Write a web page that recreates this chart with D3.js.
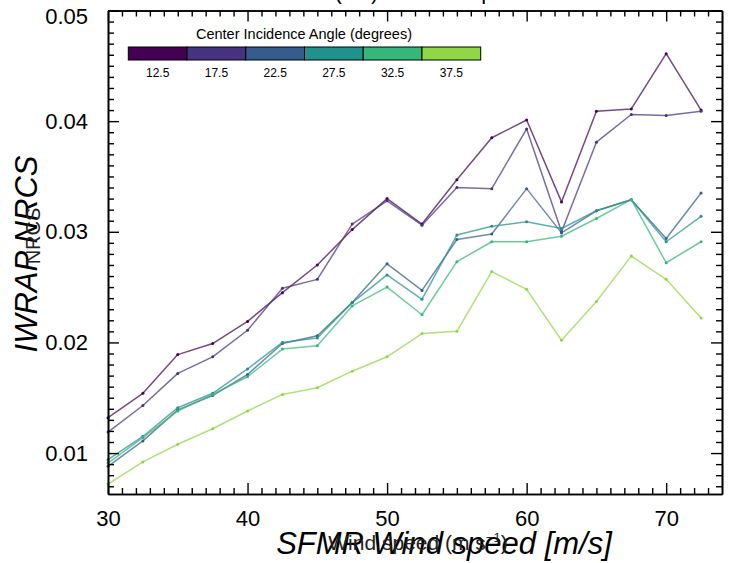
<!DOCTYPE html>
<html>
<head>
<meta charset="utf-8">
<script src="https://cdn.jsdelivr.net/npm/d3@7"></script>
<style>
  html, body { margin: 0; padding: 0; background: #fff; }
  svg { display: block; font-family: "Liberation Sans", Arial, Helvetica, sans-serif; }
</style>
</head>
<body>
<svg id="chart" width="732" height="563"></svg>
<script>
// ---- data ----
const windSpeeds = [30, 32.5, 35, 37.5, 40, 42.5, 45, 47.5, 50, 52.5, 55, 57.5, 60, 62.5, 65, 67.5, 70, 72.5];
const angles = ["12.5", "17.5", "22.5", "27.5", "32.5", "37.5"];
const nrcs125 = [0.0132, 0.0154, 0.0189, 0.0199, 0.0219, 0.0245, 0.0270, 0.0302, 0.0330, 0.0307, 0.0347, 0.0385, 0.0401, 0.0327, 0.0409, 0.0411, 0.0461, 0.0410];
const nrcs175 = [0.0119, 0.0143, 0.0172, 0.0187, 0.0211, 0.0249, 0.0257, 0.0307, 0.0328, 0.0306, 0.0340, 0.0339, 0.0393, 0.0300, 0.0381, 0.0406, 0.0405, 0.0409];
const nrcs225 = [0.0088, 0.0111, 0.0139, 0.0152, 0.0171, 0.0199, 0.0206, 0.0236, 0.0271, 0.0247, 0.0293, 0.0298, 0.0339, 0.0299, 0.0319, 0.0329, 0.0294, 0.0335];
const nrcs275 = [0.0094, 0.0115, 0.0141, 0.0154, 0.0176, 0.0200, 0.0204, 0.0236, 0.0261, 0.0239, 0.0297, 0.0305, 0.0309, 0.0303, 0.0319, 0.0329, 0.0291, 0.0314];
const nrcs325 = [0.0091, 0.0114, 0.0138, 0.0153, 0.0169, 0.0194, 0.0197, 0.0233, 0.0250, 0.0225, 0.0273, 0.0291, 0.0291, 0.0296, 0.0312, 0.0329, 0.0272, 0.0291];
const nrcs375 = [0.0072, 0.0092, 0.0108, 0.0122, 0.0138, 0.0153, 0.0159, 0.0174, 0.0187, 0.0208, 0.0210, 0.0264, 0.0248, 0.0202, 0.0237, 0.0278, 0.0257, 0.0222];
const xTicks = [30, 40, 50, 60, 70];
const yTicks = [0.01, 0.02, 0.03, 0.04, 0.05];

// ---- styles ----
const colors = ["#440154", "#46327e", "#365c8d", "#21918c", "#35b779", "#8fd744"];
const seriesList = [nrcs125, nrcs175, nrcs225, nrcs275, nrcs325, nrcs375];

const svg = d3.select("#chart");
const L = 108, R = 722, T = 10.5, B = 494;

const x = d3.scaleLinear().domain([30, 74]).range([L, R]);
const y = d3.scaleLinear().domain([0.0063, 0.05]).range([B, T]);

// cut-off title at the very top
svg.append("text")
  .attr("x", 266).attr("y", -1.5)
  .attr("font-size", 22).attr("fill", "#000")
  .text("NRCS (VV) vs. wind speed");

// lines
const line = d3.line().x((d, i) => x(windSpeeds[i])).y(d => y(d));
const g = svg.append("g");
seriesList.forEach((s, k) => {
  g.append("path")
    .datum(s)
    .attr("d", line)
    .attr("fill", "none")
    .attr("stroke", colors[k])
    .attr("stroke-opacity", 0.72)
    .attr("stroke-width", 1.5)
    .attr("stroke-linejoin", "round");
  g.selectAll(null)
    .data(s)
    .enter().append("circle")
    .attr("cx", (d, i) => x(windSpeeds[i]))
    .attr("cy", d => y(d))
    .attr("r", 1.5)
    .attr("fill", colors[k]);
});

// axes: frame + inward ticks
const xMinor = d3.range(31, 74, 1).filter(v => v % 10 !== 0);
const yMinor = d3.range(7, 50, 1).map(v => v / 1000).filter(v => Math.round(v * 1000) % 10 !== 0);

function styleAxis(sel) {
  sel.selectAll(".domain").attr("stroke", "#000").attr("stroke-width", 1.6);
  sel.selectAll(".tick line").attr("stroke", "#000").attr("stroke-width", 1.4);
  sel.selectAll(".tick text").attr("fill", "#000").attr("font-size", 22)
    .attr("font-family", "Liberation Sans, Arial, sans-serif");
}

// bottom
svg.append("g").attr("transform", `translate(0,${B})`)
  .call(d3.axisBottom(x).tickValues(xMinor).tickSize(-6).tickSizeOuter(0).tickFormat(""))
  .call(styleAxis);
svg.append("g").attr("transform", `translate(0,${B})`)
  .call(d3.axisBottom(x).tickValues(xTicks).tickSize(-11).tickSizeOuter(0).tickPadding(9).tickFormat(d3.format("d")))
  .call(styleAxis)
  .call(s => s.selectAll(".tick text").attr("dy", "1.05em"));
// top
svg.append("g").attr("transform", `translate(0,${T})`)
  .call(d3.axisTop(x).tickValues(xMinor).tickSize(-6).tickSizeOuter(0).tickFormat(""))
  .call(styleAxis);
svg.append("g").attr("transform", `translate(0,${T})`)
  .call(d3.axisTop(x).tickValues(xTicks).tickSize(-11).tickSizeOuter(0).tickFormat(""))
  .call(styleAxis);
// left
svg.append("g").attr("transform", `translate(${L},0)`)
  .call(d3.axisLeft(y).tickValues(yMinor).tickSize(-6).tickSizeOuter(0).tickFormat(""))
  .call(styleAxis);
svg.append("g").attr("transform", `translate(${L},0)`)
  .call(d3.axisLeft(y).tickValues(yTicks).tickSize(-11).tickSizeOuter(0).tickPadding(20).tickFormat(d3.format(".2f")))
  .call(styleAxis)
  .call(s => s.selectAll(".tick text").filter(d => d === 0.05).attr("dy", "0.6em"));
// right
svg.append("g").attr("transform", `translate(${R},0)`)
  .call(d3.axisRight(y).tickValues(yMinor).tickSize(-6).tickSizeOuter(0).tickFormat(""))
  .call(styleAxis);
svg.append("g").attr("transform", `translate(${R},0)`)
  .call(d3.axisRight(y).tickValues(yTicks).tickSize(-11).tickSizeOuter(0).tickFormat(""))
  .call(styleAxis);

// axis titles (two overlapping labels as in the reference)
svg.append("text")
  .attr("transform", "translate(37,254) rotate(-90)")
  .attr("text-anchor", "middle")
  .attr("font-size", 31).attr("font-style", "italic").attr("fill", "#000")
  .text("IWRAP NRCS");
svg.append("text")
  .attr("transform", "translate(40,236) rotate(-90)")
  .attr("text-anchor", "middle")
  .attr("font-size", 20).attr("fill", "#222")
  .text("NRCS");

svg.append("text")
  .attr("x", 444).attr("y", 554)
  .attr("text-anchor", "middle")
  .attr("font-size", 31).attr("font-style", "italic").attr("fill", "#000")
  .text("SFMR Wind speed [m/s]");
const xt2 = svg.append("text")
  .attr("x", 418).attr("y", 550)
  .attr("text-anchor", "middle")
  .attr("font-size", 21).attr("fill", "#222");
xt2.append("tspan").text("Wind speed (m s");
xt2.append("tspan").attr("dy", -8).attr("font-size", 13).text("−1");
xt2.append("tspan").attr("dy", 8).text(")");

// legend colour bar
const legX = 128.3, legW = 352.4, legY = 47, legH = 13;
const lx = d3.scaleBand().domain(angles).range([legX, legX + legW]).paddingInner(0).paddingOuter(0);
svg.append("text")
  .attr("x", 304).attr("y", 39)
  .attr("text-anchor", "middle")
  .attr("font-size", 14.5).attr("fill", "#000")
  .text("Center Incidence Angle (degrees)");
const lg = svg.append("g");
lg.selectAll("rect").data(angles).enter().append("rect")
  .attr("x", d => lx(d)).attr("y", legY)
  .attr("width", lx.bandwidth()).attr("height", legH)
  .attr("fill", (d, i) => colors[i])
  .attr("stroke", "#000").attr("stroke-width", 1);
lg.selectAll("text").data(angles).enter().append("text")
  .attr("x", d => lx(d) + lx.bandwidth() / 2)
  .attr("y", 77)
  .attr("text-anchor", "middle")
  .attr("font-size", 12).attr("fill", "#000")
  .text(d => d);
</script>
</body>
</html>
